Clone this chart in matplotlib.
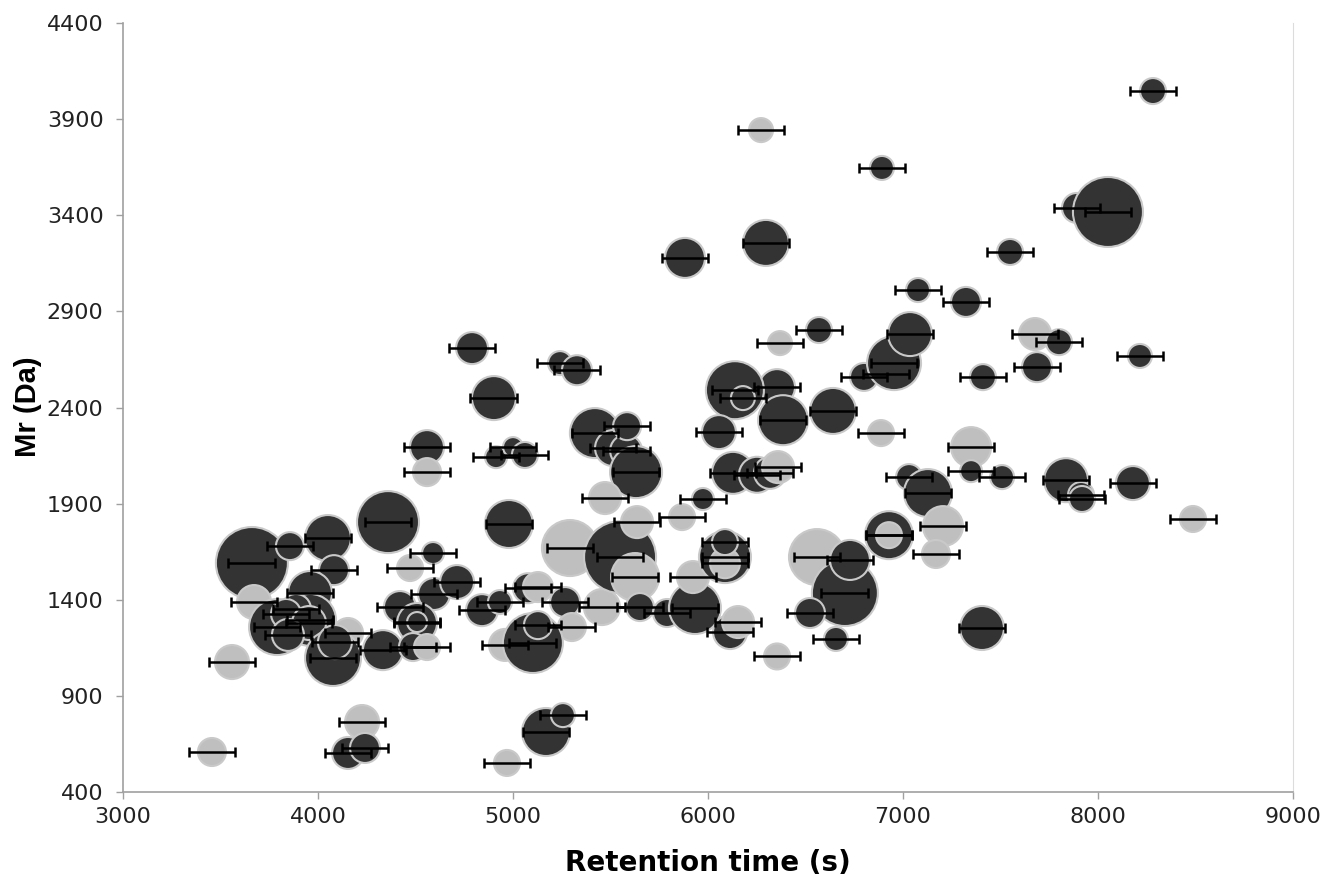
import matplotlib.pyplot as plt
import numpy as np

# %%
# spot data, listed in drawing order
# retention time (s)
rt = [8282, 6272, 6892, 7892, 8051, 5882, 6297, 7549, 7077, 7323,
      6569, 6800, 6913, 6954, 7036, 8215, 7677, 7800, 7687, 7410,
      6641, 6887, 7349, 6354, 6385, 6138, 6179, 6056, 6369, 4790,
      4902, 5241, 5328, 5420, 5513, 5580, 5585, 5631, 5472, 4559,
      4559, 4913, 5000, 5061, 4979, 4359, 4051, 3661, 3856, 4082,
      3672, 4472, 4590, 4595, 4713, 3959,
      3790, 3959, 3887, 3836, 3954, 3846, 4154, 4077, 4087, 4333,
      4420, 4508, 4508, 4487, 4559, 3559, 3456, 4226, 4154, 4241,
      4841, 4933, 5077, 5128, 5267, 5456, 5302, 4959, 5102, 5128,
      5169, 5256, 4969, 5292, 5549, 5626, 5636, 5651, 5790, 5933,
      5923, 5974, 5867, 6087, 6087, 6087, 6113, 6154, 6354, 6128,
      6251, 6318, 6359,
      6559, 6702, 6728, 6523, 6656, 7031, 7128, 7349, 7508, 7836,
      7913, 7918, 8179, 6928, 6928, 7205, 7169, 7405, 8487]

# Mr (Da)
mr = [4046, 3843, 3646, 3438, 3417, 3178, 3256, 3209, 3011, 2949,
      2803, 2559, 2574, 2631, 2782, 2668, 2782, 2740, 2610, 2558,
      2382, 2267, 2194, 2506, 2334, 2490, 2449, 2272, 2735, 2709,
      2449, 2631, 2594, 2267, 2189, 2175, 2303, 2064, 1929, 2194,
      2064, 2142, 2194, 2153, 1794, 1804, 1721, 1591, 1679, 1554,
      1388, 1565, 1643, 1430, 1492, 1435,
      1258, 1295, 1352, 1326, 1279, 1217, 1227, 1097, 1180, 1138,
      1362, 1279, 1284, 1154, 1154, 1076, 608, 764, 603, 629,
      1346, 1388, 1460, 1466, 1388, 1362, 1258, 1165, 1175, 1268,
      712, 800, 551, 1669, 1622, 1518, 1804, 1362, 1331, 1357,
      1518, 1924, 1830, 1622, 1590, 1700, 1232, 1284, 1105, 2060,
      2050, 2060, 2090,
      1622, 1435, 1607, 1331, 1196, 2038, 1955, 2069, 2038, 2022,
      1945, 1924, 2007, 1736, 1736, 1783, 1638, 1253, 1820]

# relative spot size (bubble width)
spot = [13, 12, 12, 15, 35, 20, 23, 13, 12, 15,
        13, 14, 12, 27, 22, 12, 16, 13, 15, 13,
        23, 13, 20, 18, 25, 29, 12, 17, 12, 16,
        22, 12, 15, 25, 18, 16, 14, 26, 16, 17,
        14, 11, 10, 13, 24, 31, 23, 36, 14, 15,
        17, 13, 11, 16, 17, 22,
        28, 26, 15, 15, 17, 16, 15, 28, 17, 20,
        16, 20, 10, 14, 13, 17, 14, 17, 16, 15,
        16, 12, 15, 15, 15, 18, 14, 16, 30, 14,
        24, 12, 13, 28, 36, 24, 16, 14, 14, 26,
        16, 11, 13, 26, 15, 13, 17, 16, 13, 21,
        18, 16, 16,
        28, 33, 20, 15, 12, 13, 24, 11, 12, 22,
        13, 13, 17, 24, 13, 20, 14, 22, 13]

# 1 = dark series, 0 = light series
series = [1, 0, 1, 1, 1, 1, 1, 1, 1, 1,
          1, 1, 1, 1, 1, 1, 0, 1, 1, 1,
          1, 0, 0, 1, 1, 1, 1, 1, 0, 1,
          1, 1, 1, 1, 1, 1, 1, 1, 0, 1,
          0, 1, 1, 1, 1, 1, 1, 1, 1, 1,
          0, 0, 1, 1, 1, 1,
          1, 1, 1, 1, 1, 1, 0, 1, 1, 1,
          1, 1, 1, 1, 0, 0, 0, 0, 1, 1,
          1, 1, 1, 0, 1, 0, 0, 0, 1, 1,
          1, 1, 0, 0, 1, 0, 0, 1, 1, 1,
          0, 1, 0, 1, 0, 1, 1, 0, 0, 1,
          1, 1, 0,
          0, 1, 1, 1, 1, 1, 1, 1, 1, 1,
          1, 1, 1, 1, 0, 0, 0, 1, 0]

rt_sd = 120  # +/- retention time deviation (s)

# %%
fig = plt.figure(figsize=(13.21, 8.86), dpi=100)
ax = fig.add_axes([123 / 1321, 1 - 792 / 886, 1170 / 1321, 769 / 886])

colors = ["#333333" if g == 1 else "#bfbfbf" for g in series]
sizes = (1.44 * np.array(spot)) ** 2
ax.scatter(rt, mr, s=sizes, c=colors, edgecolors="#c9c9c9", linewidths=1.5, zorder=2)
ax.errorbar(rt, mr, xerr=rt_sd, fmt="none", ecolor="black",
            elinewidth=1.8, capsize=3.5, capthick=1.8, zorder=3)

ax.set_xlim(3000, 9000)
ax.set_ylim(400, 4400)
ax.set_xticks(range(3000, 9001, 1000))
ax.set_yticks(range(400, 4401, 500))

for side in ["left", "bottom"]:
    ax.spines[side].set_color("#a0a0a0")
    ax.spines[side].set_linewidth(1.2)
ax.spines["right"].set_color("#dcdcdc")
ax.spines["top"].set_visible(False)

ax.tick_params(axis="both", direction="out", length=5, width=1, color="#a0a0a0",
               labelsize=16, labelcolor="#222222")
ax.tick_params(axis="x", pad=6)
ax.tick_params(axis="y", pad=9)
for lab in ax.get_xticklabels() + ax.get_yticklabels():
    lab.set_family("DejaVu Sans")

ax.set_xlabel("Retention time (s)", fontsize=20, fontweight="bold",
              family="DejaVu Sans", labelpad=16)
fig.text(28 / 1321, 1 - 407 / 886, "Mr (Da)", rotation=90, ha="center", va="center",
         fontsize=21, fontweight="bold", family="Liberation Sans")

fig.savefig("out.png", dpi=100, facecolor="white")
